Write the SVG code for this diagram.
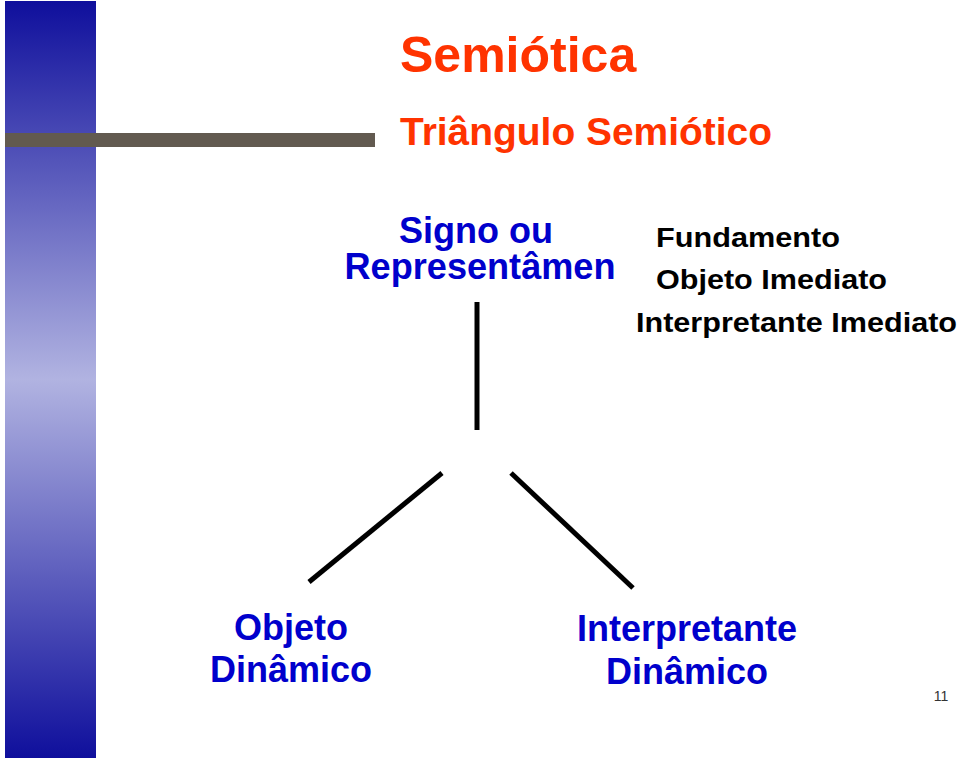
<svg xmlns="http://www.w3.org/2000/svg" width="960" height="761" viewBox="0 0 960 761">
<defs>
<linearGradient id="bar" x1="0" y1="0" x2="0" y2="1">
<stop offset="0" stop-color="#0f0f9c"/>
<stop offset="0.5" stop-color="#b1b3e1"/>
<stop offset="1" stop-color="#0f0f9c"/>
</linearGradient>
<style>
.red{font-family:"Liberation Sans",Arial,sans-serif;font-weight:bold;fill:#ff3300}
.blue{font-family:"Liberation Sans",Arial,sans-serif;font-weight:bold;fill:#0000cc;font-size:36px;text-anchor:middle}
.blk{font-family:"Liberation Sans",Arial,sans-serif;font-weight:bold;fill:#000;font-size:27px}
.conn{stroke:#000;stroke-width:5;fill:none}
</style>
</defs>
<rect width="960" height="761" fill="#fff"/>
<rect x="5" y="1" width="91" height="757" fill="url(#bar)"/>
<rect x="5" y="133" width="370" height="14" fill="#625a50"/>
<text class="red" x="400" y="72" font-size="50">Semiótica</text>
<text class="red" x="400" y="145" font-size="38" textLength="372" lengthAdjust="spacingAndGlyphs">Triângulo Semiótico</text>
<g id="signo">
<text class="blue" x="476" y="243" font-size="35">Signo ou</text>
<text class="blue" x="480" y="279" font-size="35" textLength="271" lengthAdjust="spacingAndGlyphs">Representâmen</text>
</g>
<g id="aspectos">
<text class="blk" x="656" y="247" textLength="184" lengthAdjust="spacingAndGlyphs">Fundamento</text>
<text class="blk" x="656" y="289" textLength="231" lengthAdjust="spacingAndGlyphs">Objeto Imediato</text>
<text class="blk" x="636" y="332" textLength="321" lengthAdjust="spacingAndGlyphs">Interpretante Imediato</text>
</g>
<g id="objeto-dinamico">
<text class="blue" x="291" y="640">Objeto</text>
<text class="blue" x="291" y="682">Dinâmico</text>
</g>
<g id="interpretante-dinamico">
<text class="blue" x="687" y="641">Interpretante</text>
<text class="blue" x="687" y="684">Dinâmico</text>
</g>
<g id="connectors">
<line class="conn" x1="477" y1="302" x2="477" y2="430"/>
<line class="conn" x1="442" y1="473" x2="309" y2="582"/>
<line class="conn" x1="511" y1="473" x2="633" y2="588"/>
</g>
<text x="941" y="701" font-family="Liberation Sans,Arial,sans-serif" font-size="14" fill="#333" text-anchor="middle">11</text>
</svg>
